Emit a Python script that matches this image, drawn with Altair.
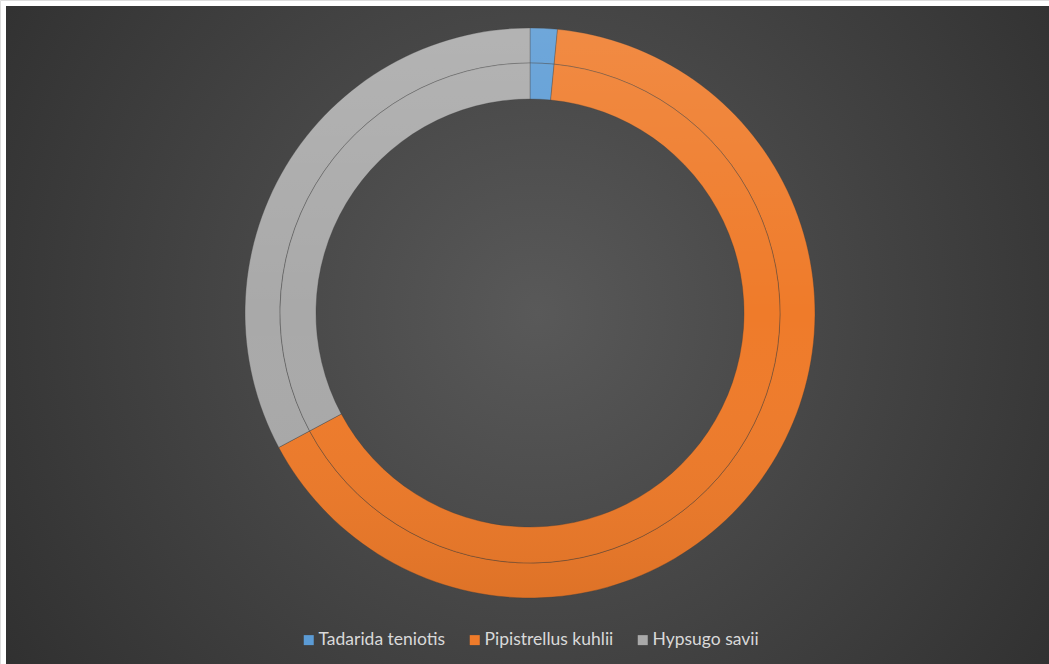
import altair as alt
import pandas as pd

species = ["Tadarida teniotis", "Pipistrellus kuhlii", "Hypsugo savii"]
values = [3, 128, 64]
colors = ["#5B9BD5", "#EF7B2A", "#A9A9A9"]

df = pd.DataFrame({"species": species, "value": values, "order": [0, 1, 2]})
one = pd.DataFrame({"v": [1]})

W, H = 1049, 664
CX, CY = 530, 313

bg = alt.Chart(one).mark_rect(
    fill={
        "gradient": "radial",
        "x1": 0.5, "y1": 0.47, "r1": 0,
        "x2": 0.5, "y2": 0.47, "r2": 0.75,
        "stops": [
            {"offset": 0, "color": "#595959"},
            {"offset": 1, "color": "#262626"},
        ],
    }
).encode(x=alt.value(6), x2=alt.value(W + 20), y=alt.value(6), y2=alt.value(H + 20))

color = alt.Color(
    "species:N",
    scale=alt.Scale(domain=species, range=colors),
    sort=species,
    legend=alt.Legend(
        title=None,
        orient="none",
        legendX=300,
        legendY=631,
        direction="horizontal",
        symbolType="square",
        symbolSize=100,
        symbolStrokeWidth=0,
        labelFont="Lato",
        labelFontSize=17.5,
        labelColor="#d9d9d9",
        labelOffset=1,
        columnPadding=20,
    ),
)

def ring(r_out, r_in):
    return alt.Chart(df).mark_arc(
        outerRadius=r_out, innerRadius=r_in, stroke="#3c3c3c",
        strokeWidth=0.8, strokeOpacity=0.45
    ).encode(
        theta=alt.Theta("value:Q", stack=True),
        order=alt.Order("order:Q"),
        color=color,
        x=alt.value(CX),
        y=alt.value(CY),
    )

outer = ring(285, 250)
inner = ring(250, 214)

shade = alt.Chart(one).mark_arc(
    outerRadius=285, innerRadius=214,
    fill={
        "gradient": "linear",
        "x1": 0, "y1": 0, "x2": 0, "y2": 1,
        "stops": [
            {"offset": 0, "color": "rgba(255,255,255,0.12)"},
            {"offset": 0.5, "color": "rgba(255,255,255,0.0)"},
            {"offset": 1, "color": "rgba(0,0,0,0.07)"},
        ],
    },
).encode(theta=alt.Theta("v:Q"), x=alt.value(CX), y=alt.value(CY))

chart = alt.layer(bg, outer, inner, shade).resolve_scale(
    theta="independent"
).properties(
    width=W, height=H, padding=0, autosize=alt.AutoSizeParams(type="none")
).configure_view(stroke=None).configure(background="white")

chart.save("out.html", embed_options={"renderer": "svg", "actions": False})
